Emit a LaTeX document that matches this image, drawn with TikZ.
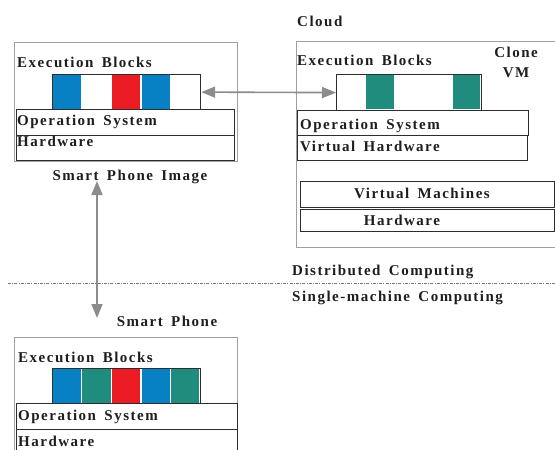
\documentclass[tikz,border=0pt]{standalone}
\usepackage{fontspec}
\setmainfont{Liberation Serif}[LetterSpace=10,WordSpace=1.6]
\usetikzlibrary{arrows.meta}
\definecolor{cblue}{RGB}{8,128,196}
\definecolor{cred}{RGB}{236,28,36}
\definecolor{cteal}{RGB}{32,140,126}
\definecolor{boxgray}{RGB}{160,160,160}
\definecolor{bardark}{RGB}{45,45,45}
\definecolor{arrgray}{RGB}{140,140,140}
\definecolor{txt}{RGB}{30,30,30}
\begin{document}
\begin{tikzpicture}[x=1pt,y=-1pt,
  lbl/.style={inner sep=0pt, text height=10pt, text depth=0pt,
    font=\bfseries\fontsize{15}{17}\selectfont, text=txt},
  outerbox/.style={draw=boxgray, line width=1.2pt, inner sep=0pt},
  bar/.style={draw=bardark, line width=1.2pt, inner sep=0pt},
  stripbox/.style={draw=bardark, line width=1.2pt, inner sep=0pt},
  link/.style={draw=arrgray, line width=1.6pt,
    {Triangle[length=14pt,width=11pt]}-{Triangle[length=14pt,width=11pt]}}]
\useasboundingbox (0,0) rectangle (555,450);
\clip (0,0) rectangle (555,450);

% ---------- Smart Phone Image ----------
\node[outerbox, anchor=north west, minimum width=223pt, minimum height=119pt] (pimg) at (14,42) {};
\node[lbl, anchor=west] (pimgeb) at (17,62) {Execution Blocks};
\fill[cblue] (52.8,74.6) rectangle (81.0,108.6);
\fill[cred]  (112.0,74.6) rectangle (140.0,108.6);
\fill[cblue] (141.6,74.6) rectangle (169.8,108.6);
\node[stripbox, anchor=north west, minimum width=148pt, minimum height=35pt] (pimgstrip) at (52,74) {};
\node[bar, anchor=north west, minimum width=218pt, minimum height=26pt] (pimgos) at (16,109) {};
\node[bar, anchor=north west, minimum width=218pt, minimum height=25pt] (pimghw) at (16,135) {};
\node[lbl, anchor=west] (pimgostxt) at (17,120) {Operation System};
\node[lbl, anchor=west] (pimghwtxt) at (17,141) {Hardware};
\node[lbl] (pimglabel) at (130,175) {Smart Phone Image};

% ---------- Cloud ----------
\node[lbl, anchor=west] (cloudlabel) at (297,21) {Cloud};
\node[outerbox, anchor=north west, minimum width=270pt, minimum height=206pt] (cloud) at (296,41) {};
\node[lbl] (clone) at (516,52) {Clone};
\node[lbl] (vm) at (516,72) {VM};
\node[lbl, anchor=west] (cloudeb) at (297,60) {Execution Blocks};
\fill[cteal] (365.8,74.6) rectangle (393.6,109.4);
\fill[cteal] (452.6,74.6) rectangle (480.4,109.4);
\node[stripbox, anchor=north west, minimum width=145pt, minimum height=36pt] (cloudstrip) at (336,74) {};
\node[bar, anchor=north west, minimum width=231pt, minimum height=25pt] (cloudos) at (297,110) {};
\node[bar, anchor=north west, minimum width=230pt, minimum height=25pt] (cloudvh) at (297,135) {};
\node[lbl, anchor=west] (cloudostxt) at (300,124) {Operation System};
\node[lbl, anchor=west] (cloudvhtxt) at (300,146) {Virtual Hardware};
\node[bar, anchor=north west, minimum width=254pt, minimum height=26pt] (vmbar) at (300,181) {};
\node[bar, anchor=north west, minimum width=254pt, minimum height=22pt] (hwbar) at (300,209) {};
\node[lbl] (vmtxt) at (422,193) {Virtual Machines};
\node[lbl] (hwtxt) at (402,220) {Hardware};

% ---------- divider ----------
\coordinate (dl) at (8,283);
\coordinate (dr) at (555,283);
\draw[draw=arrgray!85!black, line width=0.8pt, dash pattern=on 3pt off 1.2pt on 1pt off 1.2pt] (dl) -- (dr);
\node[lbl, anchor=west] (dist) at (292,270) {Distributed Computing};
\node[lbl, anchor=west] (single) at (292,296) {Single-machine Computing};

% ---------- Smart Phone ----------
\node[lbl] (phonelabel) at (167,321) {Smart Phone};
\node[outerbox, anchor=north west, minimum width=223pt, minimum height=130pt] (phone) at (14,337) {};
\node[lbl, anchor=west] (phoneeb) at (18,357) {Execution Blocks};
\fill[cblue] (52.8,368.6) rectangle (81.0,402.6);
\fill[cteal] (82.4,368.6) rectangle (110.6,402.6);
\fill[cred]  (112.0,368.6) rectangle (140.0,402.6);
\fill[cblue] (141.6,368.6) rectangle (169.8,402.6);
\fill[cteal] (171.2,368.6) rectangle (199.4,402.6);
\node[stripbox, anchor=north west, minimum width=148pt, minimum height=35pt] (phonestrip) at (52,368) {};
\node[bar, anchor=north west, minimum width=221pt, minimum height=26pt] (phoneos) at (16,403) {};
\node[bar, anchor=north west, minimum width=221pt, minimum height=30pt] (phonehw) at (16,429) {};
\node[lbl, anchor=west] (phoneostxt) at (18,415) {Operation System};
\node[lbl, anchor=west] (phonehwtxt) at (18,441) {Hardware};

% ---------- connectors ----------
\draw[link] (pimgstrip.east) -- (cloudstrip.west);
\coordinate (vtop) at (97,181);
\coordinate (vbot) at (97,318);
\draw[link] (vtop) -- (vbot);
\end{tikzpicture}
\end{document}
